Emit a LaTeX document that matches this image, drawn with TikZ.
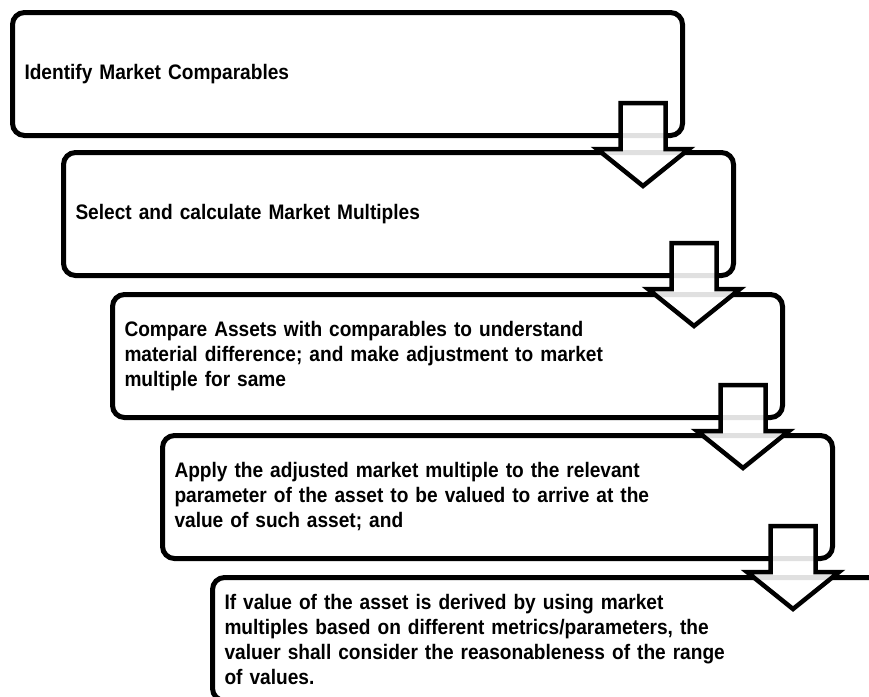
\documentclass[tikz,border=0pt]{standalone}
\usepackage{fontspec}
\setmainfont{Liberation Sans}[FakeStretch=0.91]
\usetikzlibrary{calc}
\begin{document}
\begin{tikzpicture}[x=1pt,y=-1pt,
  box/.style={draw, line width=5pt, rounded corners=12pt, fill=white,
    minimum width=670pt, minimum height=123pt, text width=646pt,
    inner xsep=12pt, inner ysep=0pt, align=left, anchor=north west,
    font=\bfseries\fontsize{21}{25}\selectfont},
  blockarrow/.style={draw, line width=4.5pt, fill=white, fill opacity=0.88, line join=miter}]
\useasboundingbox (0,0) rectangle (869,696);
\clip (0,0) rectangle (869,696);
\node[box] (b1) at (10,10) {Identify Market Comparables};
\node[box] (b2) at (61,150) {Select and calculate Market Multiples};
\node[box] (b3) at (110,292) {Compare Assets with comparables to understand\\material difference; and make adjustment to market\\multiple for same};
\node[box] (b4) at (160,433) {Apply the adjusted market multiple to the relevant\\parameter of the asset to be valued to arrive at the\\value of such asset; and};
\node[box] (b5) at (210,575) {If value of the asset is derived by using market\\multiples based on different metrics/parameters, the\\valuer shall consider the reasonableness of the range\\of values.};
\foreach \b in {b1,b2,b3,b4}{
  \coordinate (a-\b) at ($(\b.south east)+(-42,0)$);
  \draw[blockarrow] ($(a-\b)+(-22.5,-35)$) -- ($(a-\b)+(22.5,-35)$) -- ($(a-\b)+(22.5,11)$)
    -- ($(a-\b)+(46,11)$) -- ($(a-\b)+(0,48)$) -- ($(a-\b)+(-46,11)$) -- ($(a-\b)+(-22.5,11)$) -- cycle;
}
\end{tikzpicture}
\end{document}
